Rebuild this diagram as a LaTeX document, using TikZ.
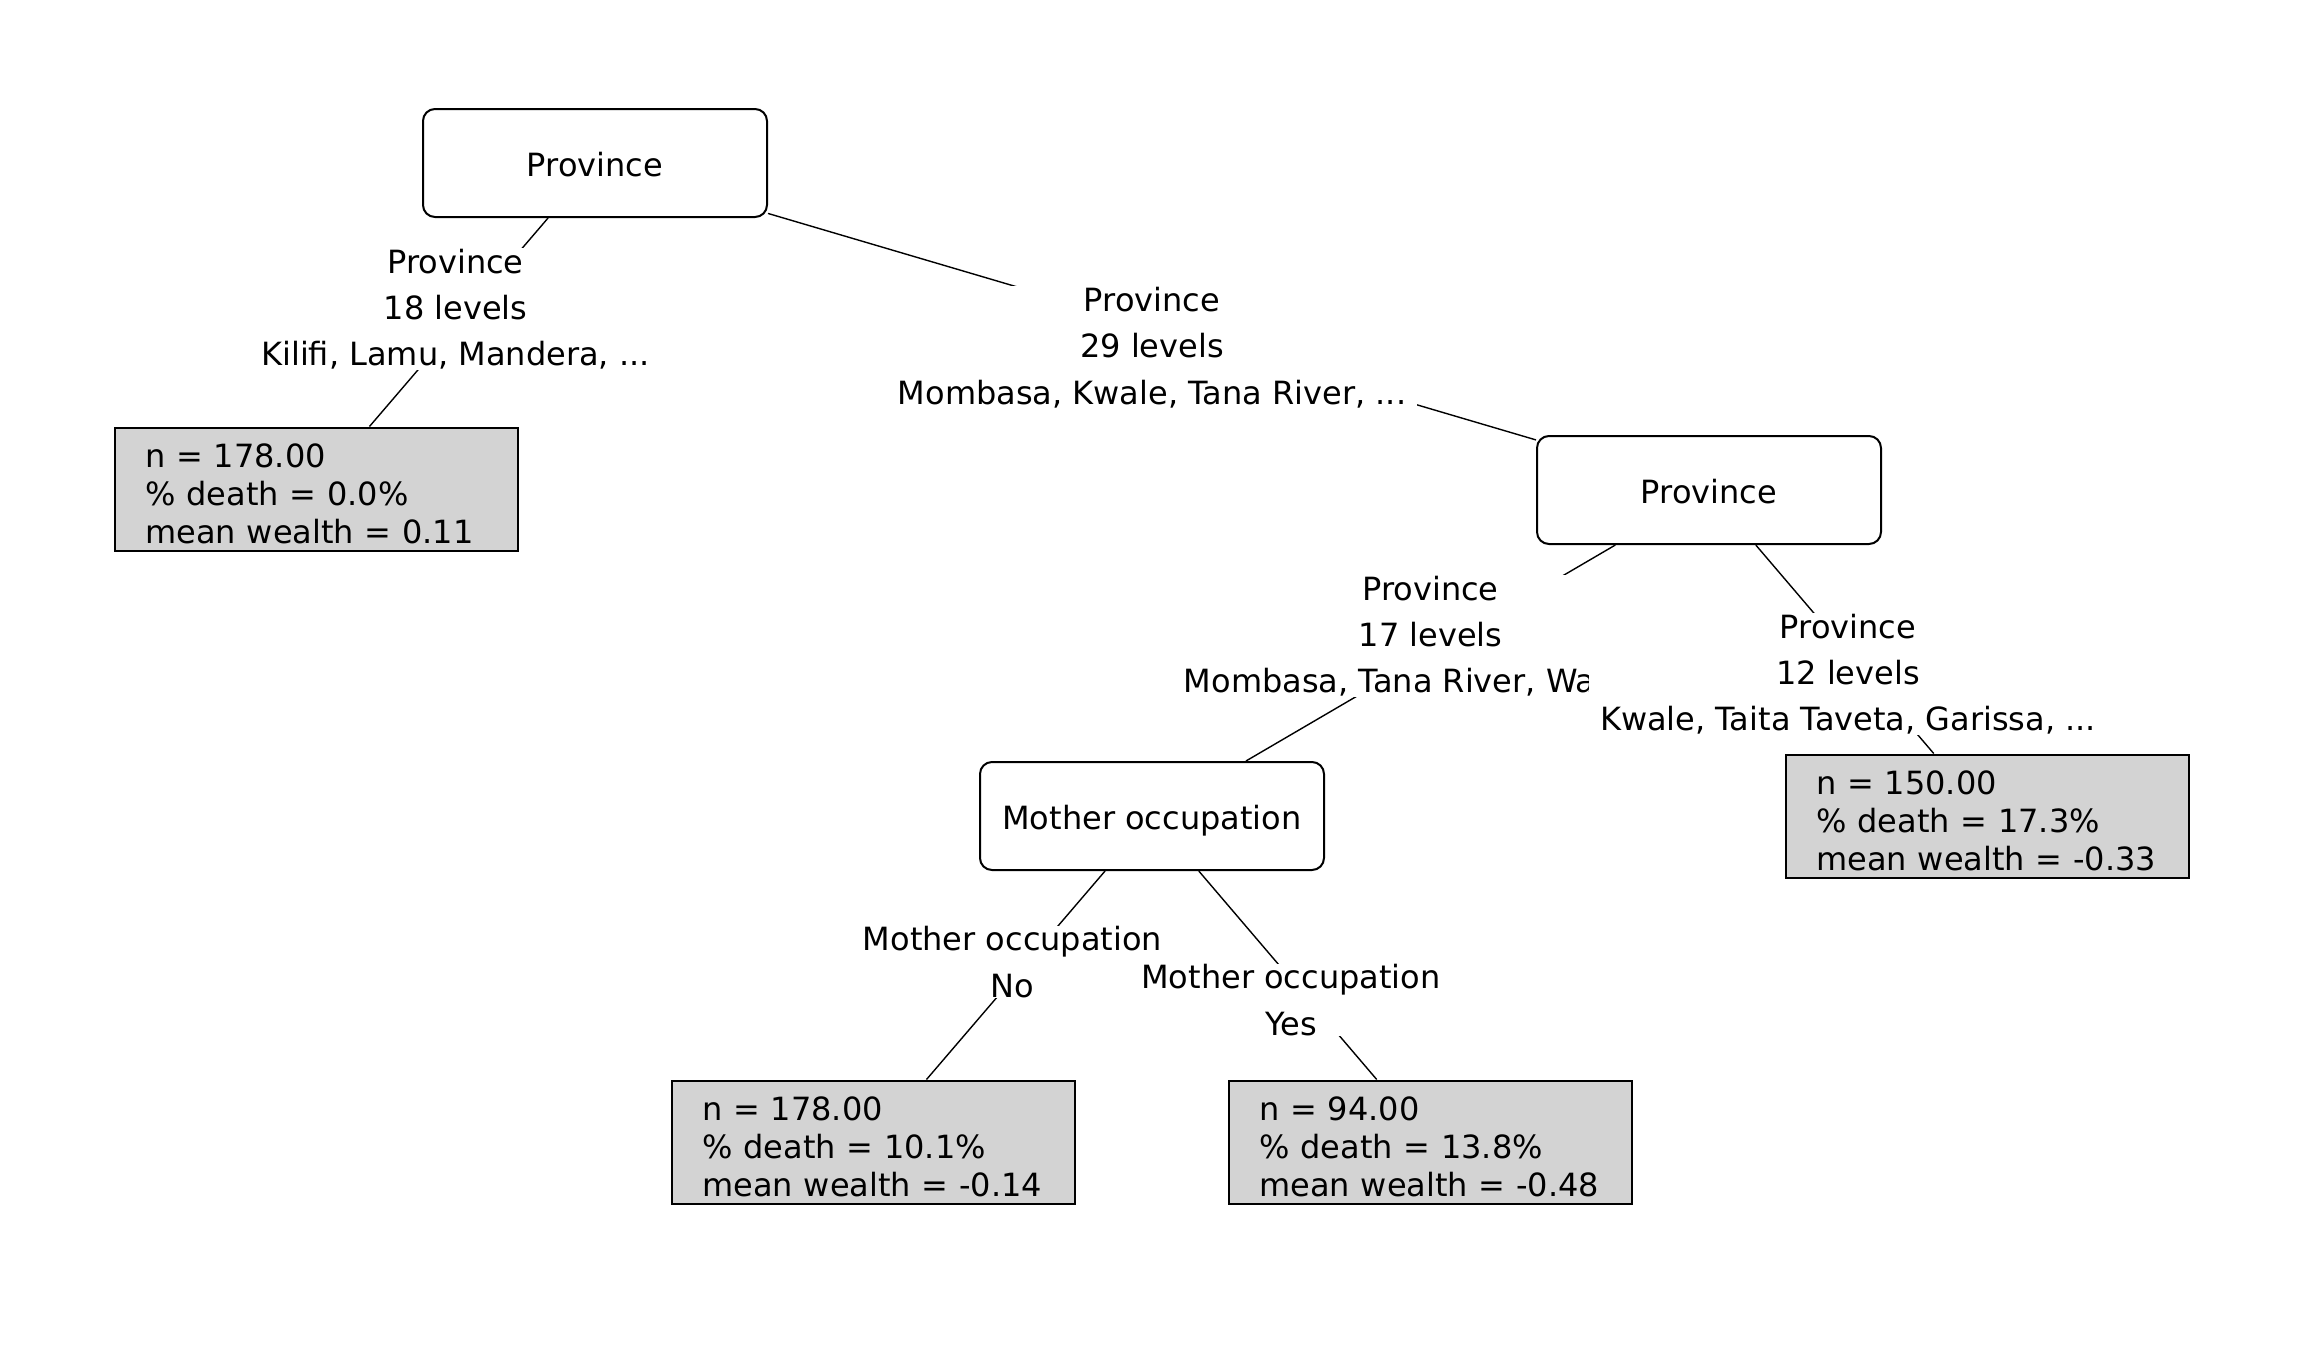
\documentclass[tikz,border=0pt]{standalone}
\usepackage{fontspec}
\setmainfont{DejaVu Sans}
\usetikzlibrary{calc}
\definecolor{leafgray}{RGB}{211,211,211}

\begin{document}
\begin{tikzpicture}[x=1pt, y=-1pt,
  font=\fontsize{32}{46.2}\selectfont,
  split/.style={draw, fill=white, rounded corners=12pt, line width=2pt, minimum width=344pt, minimum height=108pt, text height=26pt, text depth=0pt},
  leaf/.style={draw, fill=leafgray, line width=2pt, text width=341pt, inner xsep=31pt, inner ysep=2pt, minimum height=123pt, text height=34pt, align=left, font=\fontsize{32}{38.2}\selectfont},
  branch/.style={line width=1.4pt},
  cond/.style={fill=white, align=center, inner xsep=11pt, inner ysep=1pt}]
\useasboundingbox (0,0) rectangle (2304,1344);

% split nodes
\node[split] (root) at (595,163) {Province};
\node[split] (prov) at (1709,490) {Province};
\node[split] (moth) at (1152,816) {Mother occupation};

% leaves
\node[leaf] (leafa) at (316,489) {n = 178.00\\\% death = 0.0\%\\mean wealth = 0.11};
\node[leaf] (leafb) at (1987,816) {n = 150.00\\\% death = 17.3\%\\mean wealth = -0.33};
\node[leaf] (leafc) at (873,1142) {n = 178.00\\\% death = 10.1\%\\mean wealth = -0.14};
\node[leaf] (leafd) at (1430,1142) {n = 94.00\\\% death = 13.8\%\\mean wealth = -0.48};

\draw[branch] (root) -- (leafa);
\draw[branch] (root) -- (prov);
\draw[branch] (prov) -- (moth);
\draw[branch] (prov) -- (leafb);
\draw[branch] (moth) -- (leafc);
\draw[branch] (moth) -- (leafd);

% split labels, white box hides the branch behind
\node[cond, yshift=17pt] (conda) at ($(root)!.5!(leafa)$) {Province\\18 levels\\Kilifi, Lamu, Mandera, ...};
\node[cond, yshift=-21pt] (condb) at ($(root)!.5!(prov)$) {Province\\29 levels\\Mombasa, Kwale, Tana River, ...};
\node[cond, yshift=17pt] (condc) at ($(prov)!.5!(moth)$) {Province\\17 levels\\Mombasa, Tana River, Wa\makebox[2.56em]{}};
\node[cond, yshift=-21pt] (condd) at ($(prov)!.5!(leafb)$) {Province\\12 levels\\Kwale, Taita Taveta, Garissa, ...};
\node[cond, yshift=17pt] (conde) at ($(moth)!.5!(leafc)$) {Mother occupation\\No};
\node[cond, yshift=-21pt] (condf) at ($(moth)!.5!(leafd)$) {Mother occupation\\Yes};
\end{tikzpicture}
\end{document}
